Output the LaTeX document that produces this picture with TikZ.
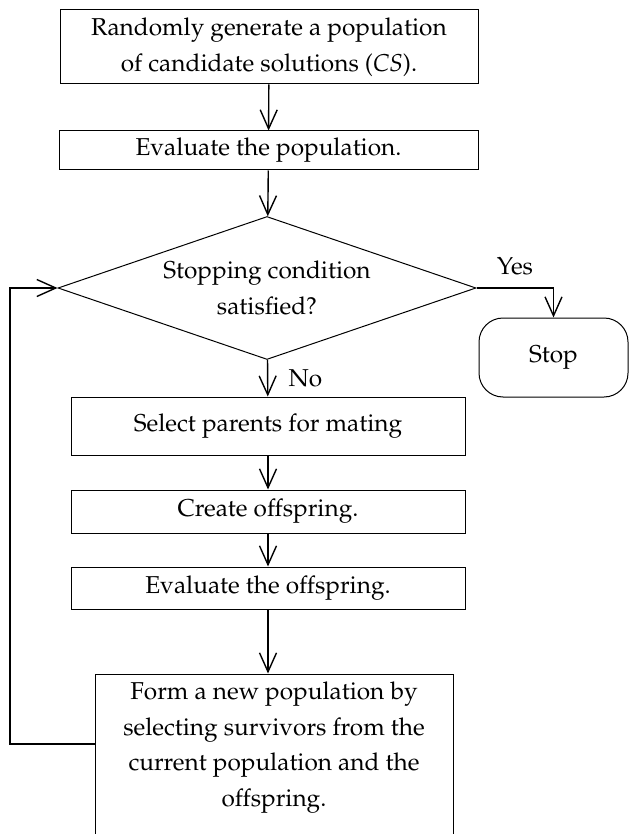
\documentclass[tikz,border=0pt]{standalone}
\usepackage[T1]{fontenc}
\usepackage{mathpazo}
\usepackage{tikz}
\usetikzlibrary{arrows.meta}
\usetikzlibrary{shapes.geometric}
\tikzstyle{flow}=[line width=1.4pt,-{Straight Barb[length=19pt,width=17pt]}]
\tikzstyle{stepbox}=[draw,line width=1pt,align=center,inner sep=0pt]
\tikzstyle{test}=[draw,diamond,aspect=2.92,line width=1pt,align=center,inner sep=0pt,minimum width=418pt,minimum height=143pt]
\tikzstyle{term}=[draw,line width=1pt,rounded corners=24pt,minimum width=149pt,minimum height=79pt]

\begin{document}
\begin{tikzpicture}[x=1pt,y=-1pt,font=\fontsize{24.4}{35.5}\selectfont]
	\useasboundingbox (0,0) rectangle (629,834);
	\node[stepbox,minimum width=418pt,minimum height=74pt] (A) at (269,47) {Randomly generate a population\\of candidate solutions (\textit{CS}).};
	\node[stepbox,minimum width=419pt,minimum height=39pt] (B) at (268.5,150.5) {Evaluate the population.};
	\node[test] (D) at (267,288) {Stopping condition\\satisfied?};
	\node[term] (S) at (553.5,357.5) {Stop};
	\node[stepbox,minimum width=394pt,minimum height=58pt] (C) at (268,426) {Select parents for mating};
	\node[stepbox,minimum width=394pt,minimum height=43pt] (E) at (268,511.5) {Create offspring.};
	\node[stepbox,minimum width=394pt,minimum height=42pt] (G) at (268,588) {Evaluate the offspring.};
	\node[stepbox] (F) at (274,755) {\parbox[c][162pt][c]{358pt}{\centering Form a new population by\\selecting survivors from the\\current population and the\\offspring.\par\vspace{15pt}}};
	\coordinate (L) at (10,744);
	\draw[flow] (A) -- (B);
	\draw[flow] (B) -- (D);
	\draw[flow] (D) --node[right=17pt]{No} (C);
	\draw[flow] (D.east) -|node[above=9pt,pos=.25]{Yes} (S.north);
	\draw[flow] (C) -- (E);
	\draw[flow] (E) -- (G);
	\draw[flow] (G.south) -- (G.south |- F.north);
	\draw[flow] (L -| F.west) -- (L) |- (D.west);
\end{tikzpicture}
\end{document}
